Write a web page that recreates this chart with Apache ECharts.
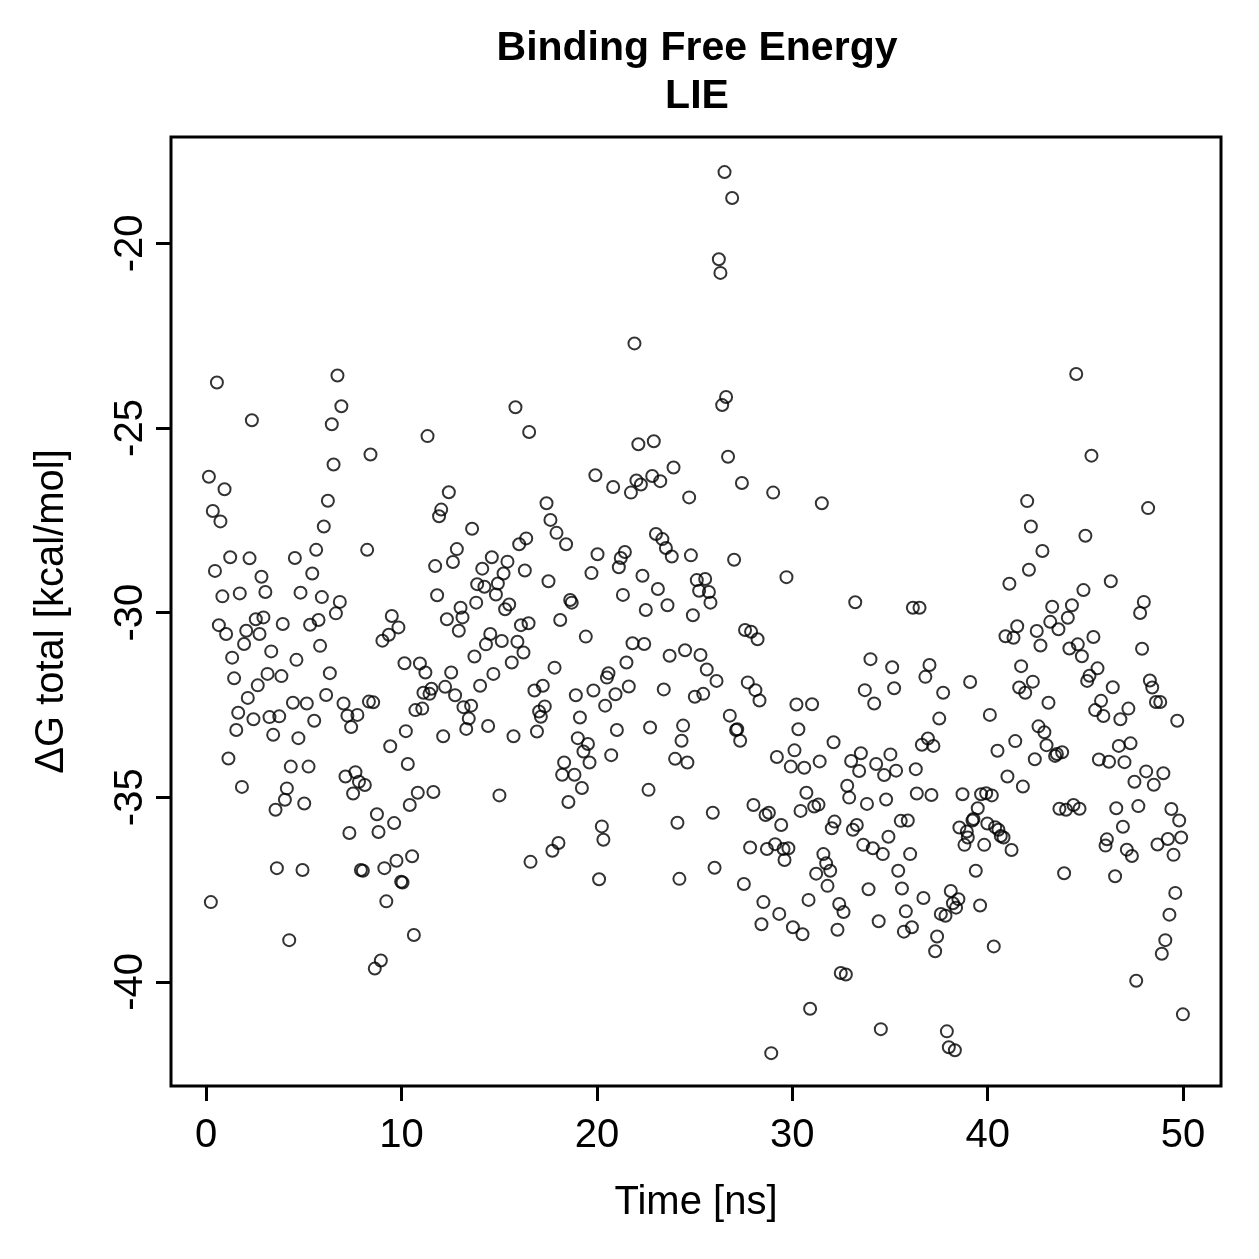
<!DOCTYPE html>
<html>
<head>
<meta charset="utf-8">
<script src="https://cdn.jsdelivr.net/npm/echarts@6/dist/echarts.min.js"></script>
<style>
  html, body { margin: 0; padding: 0; background: #fff; }
  #chart { width: 1259px; height: 1259px; }
</style>
</head>
<body>
<div id="chart"></div>
<script>
// time of each frame [ns]
var timeNs = [
  26.53, 26.92, 26.24, 26.32, 21.92, 44.53,
  0.55, 6.72, 6.92, 6.43, 2.34, 11.33, 15.83, 16.53, 8.41, 6.52,
  0.14, 0.94, 0.34, 0.73, 6.23, 12.42, 12.03, 11.92, 6.02, 13.61,
  16.38, 16.02, 1.23, 2.22, 4.54, 5.63, 8.24, 0.45, 2.83, 5.43,
  11.72, 12.63, 12.83, 14.62, 14.13, 15.42, 15.22, 16.31, 0.83, 1.72,
  3.03, 4.83, 5.92, 6.84, 6.64, 9.50, 11.82, 13.87, 14.24, 14.93,
  14.83, 13.82, 13.02, 15.51, 15.30,
  26.61, 26.41, 22.12, 22.91, 26.71, 19.92, 20.83, 22.02, 22.25, 21.74,
  22.83, 23.24, 23.92, 24.72, 27.42, 29.02, 31.51, 17.42, 17.62, 17.93,
  18.42, 20.03, 21.43, 21.22, 21.12, 23.02, 23.35, 23.53, 23.83, 24.81,
  27.02, 17.52, 19.72, 22.33, 23.12, 21.33, 18.63, 18.71, 22.50, 23.61,
  25.11, 25.54, 25.23, 25.73, 25.81, 24.91, 29.70, 33.22,
  45.31, 42.02, 48.21, 42.21, 45.00, 42.80, 42.11, 41.11, 44.90, 46.30,
  36.17, 36.51, 43.30, 44.31, 47.99, 47.80,
  0.65, 1.02, 2.05, 2.54, 2.93, 2.73, 3.92, 5.32, 5.75, 1.94,
  3.33, 5.83, 1.33, 4.62, 1.43, 3.14, 3.85, 2.64, 6.33, 2.13,
  6.14, 4.44, 5.15, 7.03, 8.33, 8.55, 1.64, 2.42, 3.24, 3.74,
  5.53, 7.23, 7.74, 7.42, 1.54, 3.43, 4.72, 1.14, 4.33, 5.24,
  1.83, 4.13, 4.03, 3.55, 5.02, 9.84, 9.35, 9.02, 10.15, 10.94,
  11.22, 12.54, 12.32, 13.12, 12.93, 11.53, 11.12, 11.43, 12.23, 12.74,
  13.73, 14.32, 14.54, 15.13, 15.93, 16.24, 16.11, 16.50, 15.64, 14.70,
  14.02, 10.71, 11.06, 13.17, 13.56, 13.44, 13.31, 14.43, 10.22, 12.13,
  15.73, 9.42, 10.32, 7.13, 7.64, 7.82, 8.12, 7.52, 10.83, 11.63,
  10.42, 15.01, 8.74, 9.62, 8.82, 7.33,
  18.12, 19.43, 21.82, 22.42, 23.72, 24.51, 25.30, 25.62, 26.12, 27.58,
  27.89, 28.22, 17.83, 21.51, 20.59, 20.51, 17.23, 16.80, 18.92, 19.82,
  20.95, 21.63, 20.42, 23.42, 25.01, 25.44, 27.72, 28.11, 28.32, 17.33,
  17.04, 17.13, 16.93, 19.13, 21.02, 22.72, 24.41, 24.33, 26.80, 27.18,
  27.12, 27.33, 30.21, 31.01, 30.31, 34.00, 33.71, 34.19, 19.02, 19.54,
  19.31, 19.62, 18.32, 18.22, 18.85, 19.23, 20.73, 24.00, 24.63, 22.64,
  18.54, 25.93, 24.12, 20.25, 20.33, 18.03, 17.72, 29.21, 30.11, 29.92,
  30.61, 31.40, 32.11, 33.01, 33.51, 33.42, 34.29, 32.81, 32.91, 33.82,
  30.72, 30.42, 31.12, 31.34, 28.01, 28.63, 28.80, 29.43, 32.16, 32.02,
  33.30, 33.10, 33.63, 34.12, 27.84, 28.70, 29.12, 29.55, 29.80, 31.59,
  43.20, 44.10, 43.62, 41.51, 40.91, 41.32, 42.51, 42.70, 45.41, 44.18,
  44.61, 44.82, 47.90, 35.11, 37.02, 36.81, 35.21, 37.72, 39.10, 41.71,
  42.31, 41.61, 41.92, 43.11, 45.62, 45.21, 45.09, 46.40, 45.80, 45.50,
  45.92, 47.20, 46.79, 48.30, 48.42, 48.61, 48.83, 49.70, 37.52, 40.11,
  36.94, 36.63, 37.22, 35.02, 34.70, 35.31, 36.32, 40.50, 41.41, 42.60,
  42.90, 43.01, 43.45, 43.81, 43.54, 42.41, 41.01, 41.80, 45.69, 46.21,
  46.71, 47.31, 47.00, 48.11, 48.99, 47.51, 48.50, 36.37, 37.12, 34.80,
  38.71, 39.66, 39.92, 40.21, 39.49, 39.22, 39.27, 38.55, 38.93, 38.98,
  38.81, 39.82, 39.98, 40.38, 40.55, 40.67, 40.81, 41.22, 35.55, 35.91,
  34.92, 34.63, 36.03, 43.67, 44.01, 44.39, 44.70, 46.58, 47.71, 49.40,
  49.80, 46.92, 46.10, 46.03, 47.12, 47.38, 48.69, 49.22, 49.90, 49.51,
  3.62, 4.93, 7.92, 8.02, 9.12, 9.74, 10.54, 9.98, 10.05, 0.24,
  9.22, 4.25, 10.63, 8.94, 8.63,
  16.60, 20.11, 24.22, 26.02, 27.52, 29.60, 31.73, 31.94, 31.22, 31.80,
  33.90, 28.52, 29.33, 28.42, 30.03, 30.52, 30.83, 32.40, 32.62, 32.31,
  34.42, 32.48, 32.74, 30.91, 28.92, 34.53,
  35.42, 35.61, 36.71, 39.39, 38.11, 38.50, 38.22, 38.38, 37.60, 37.84,
  39.61, 35.81, 36.12, 35.71, 37.41, 37.31, 40.31, 37.91, 38.01, 38.32,
  43.91, 46.52, 49.60, 49.30, 49.09, 48.91, 47.60, 49.99
];

// LIE binding free energy [kcal/mol], same order as timeNs
var deltaG = [
  -18.07, -18.77, -20.43, -20.80, -22.71, -23.54,
  -23.77, -23.58, -24.41, -24.90, -24.79, -25.22, -24.44, -25.11, -25.72, -25.99,
  -26.32, -26.66, -27.25, -27.53, -26.97, -26.74, -27.21, -27.39, -27.67, -27.73,
  -27.99, -28.15, -28.50, -28.53, -28.52, -28.30, -28.30, -28.87, -29.03, -28.94,
  -28.74, -28.63, -28.28, -28.50, -28.81, -28.62, -28.94, -28.86, -29.56, -29.48,
  -29.44, -29.46, -29.58, -29.71, -30.02, -30.09, -29.53, -29.23, -29.30, -29.21,
  -29.51, -29.73, -29.87, -29.78, -29.91,
  -24.16, -24.38, -25.44, -25.36, -25.78, -26.28, -26.60, -26.42, -26.53, -26.75,
  -26.30, -26.44, -26.07, -26.88, -26.49, -26.75, -27.04, -27.04, -27.49, -27.84,
  -28.15, -28.42, -28.36, -28.52, -28.77, -27.87, -28.01, -28.25, -28.48, -28.45,
  -28.57, -29.15, -28.93, -29.00, -29.36, -29.52, -29.66, -29.73, -29.93, -29.80,
  -29.12, -29.09, -29.41, -29.44, -29.73, -30.07, -29.04, -29.72,
  -25.75, -26.98, -27.17, -27.67, -27.92, -28.33, -28.84, -29.22, -29.39, -29.15,
  -29.87, -29.87, -29.84, -29.80, -29.71, -30.01,
  -30.34, -30.58, -30.49, -30.18, -30.13, -30.58, -30.31, -30.33, -30.20, -30.85,
  -31.05, -30.90, -31.22, -31.28, -31.78, -31.66, -31.72, -31.97, -31.64, -32.31,
  -32.23, -32.44, -32.46, -32.46, -32.41, -32.43, -32.71, -32.89, -32.83, -32.81,
  -32.93, -32.79, -32.77, -33.10, -33.18, -33.31, -33.40, -33.95, -34.17, -34.17,
  -34.72, -34.76, -35.07, -35.34, -35.17, -30.40, -30.60, -30.76, -31.37, -31.38,
  -31.62, -31.62, -30.18, -30.13, -30.49, -32.06, -32.17, -32.20, -32.01, -32.24,
  -31.19, -30.86, -30.58, -30.77, -30.79, -31.08, -30.34, -30.29, -31.35, -31.66,
  -31.98, -32.64, -32.60, -32.56, -32.52, -32.87, -33.15, -33.07, -33.21, -33.35,
  -33.35, -33.62, -34.10, -34.44, -34.32, -34.58, -34.67, -34.90, -34.88, -34.86,
  -35.21, -34.95, -35.46, -35.70, -35.94, -35.97,
  -30.20, -30.65, -30.83, -30.85, -31.17, -31.02, -31.15, -31.54, -31.85, -30.47,
  -30.52, -30.72, -31.49, -31.35, -31.64, -31.76, -31.98, -32.11, -32.24, -32.11,
  -32.21, -32.00, -32.52, -32.08, -32.28, -32.20, -31.89, -32.10, -32.38, -32.54,
  -32.68, -32.82, -33.22, -32.84, -33.18, -33.11, -33.06, -33.47, -32.79, -33.16,
  -33.18, -33.47, -32.49, -32.48, -33.16, -31.26, -32.10, -32.46, -33.40, -33.56,
  -33.76, -34.06, -34.06, -34.39, -34.39, -34.75, -33.86, -33.96, -34.06, -34.80,
  -35.13, -35.42, -35.69, -35.79, -36.15, -36.24, -36.45, -33.91, -33.73, -34.17,
  -34.20, -34.03, -33.51, -34.02, -33.81, -34.29, -34.10, -34.69, -35.01, -35.18,
  -34.88, -35.37, -35.25, -35.20, -35.21, -35.48, -35.42, -35.75, -35.66, -35.84,
  -35.75, -35.88, -36.29, -36.38, -36.36, -36.40, -36.27, -36.40, -36.38, -36.54,
  -30.25, -30.14, -30.45, -30.37, -30.64, -30.68, -30.50, -30.89, -30.66, -30.97,
  -30.86, -31.18, -30.98, -31.48, -31.42, -31.74, -32.05, -32.17, -31.88, -31.45,
  -31.87, -32.03, -32.17, -32.44, -31.51, -31.71, -31.85, -32.02, -32.39, -32.64,
  -32.80, -32.60, -32.89, -31.84, -32.03, -32.42, -32.42, -32.93, -32.87, -32.77,
  -33.41, -33.58, -33.61, -33.84, -34.40, -34.28, -34.24, -33.74, -33.48, -33.08,
  -33.24, -33.59, -33.88, -33.78, -33.83, -33.97, -34.44, -34.71, -33.98, -34.04,
  -33.61, -33.54, -34.05, -34.30, -34.35, -34.58, -34.66, -34.90, -34.94, -35.06,
  -34.92, -34.92, -34.89, -34.95, -35.30, -35.63, -35.59, -35.82, -35.93, -36.09,
  -36.29, -36.29, -35.71, -35.81, -35.88, -36.05, -36.09, -36.43, -35.64, -35.63,
  -36.07, -36.54, -36.54, -35.31, -35.34, -35.21, -35.31, -35.30, -35.24, -35.32,
  -35.63, -35.80, -36.14, -36.31, -36.42, -36.59, -36.28, -36.13, -36.09, -36.56,
  -36.92, -36.97, -36.97, -36.99, -36.92, -36.72, -36.60, -37.29, -37.31, -37.84,
  -37.82, -38.87, -38.73, -39.42, -39.64,
  -36.75, -37.22, -37.21, -36.91, -37.35, -36.70, -36.79, -36.99, -37.07, -37.40,
  -37.49, -37.84, -38.16, -38.44, -38.52, -38.71, -37.78, -37.89, -38.11, -38.59,
  -38.36, -39.76, -39.80, -40.73, -41.93, -41.28,
  -36.99, -37.47, -37.73, -36.99, -37.54, -37.76, -37.87, -37.99, -38.16, -38.21,
  -37.93, -38.09, -38.52, -38.64, -38.77, -39.17, -39.04, -41.34, -41.77, -41.85,
  -37.06, -37.14, -37.59, -38.18, -38.87, -39.24, -39.97, -40.88
];

var xTicks = [0, 10, 20, 30, 40, 50];
var yTicks = [-40, -35, -30, -25, -20];

var points = timeNs.map(function (t, i) { return [t, deltaG[i]]; });

var font = 'Liberation Sans, Arial, Helvetica, sans-serif';
var chart = echarts.init(document.getElementById('chart'));
var option = {
    animation: false,
    backgroundColor: '#fff',
    title: {
        text: 'Binding Free Energy\nLIE',
        left: 692,
        top: 20,
        textAlign: 'center',
        textStyle: {
            fontFamily: font,
            fontSize: 41,
            fontWeight: 'bold',
            color: '#000',
            lineHeight: 48
        }
    },
    grid: {
        left: 171,
        right: 38,
        top: 137,
        bottom: 173,
        show: true,
        borderColor: '#000',
        borderWidth: 3,
        backgroundColor: 'transparent'
    },
    xAxis: {
        type: 'value',
        min: -1.8,
        max: 51.94,
        name: 'Time [ns]',
        nameLocation: 'middle',
        nameGap: 97,
        nameTextStyle: { fontFamily: font, fontSize: 40, color: '#000' },
        axisLine: { show: false, onZero: false },
        splitLine: { show: false },
        axisTick: {
            show: true,
            inside: false,
            length: 15,
            customValues: xTicks,
            lineStyle: { color: '#000', width: 3 }
        },
        axisLabel: {
            customValues: xTicks,
            margin: 30,
            fontFamily: font,
            fontSize: 40,
            color: '#000'
        }
    },
    yAxis: {
        type: 'value',
        min: -42.82,
        max: -17.12,
        name: 'ΔG total [kcal/mol]',
        nameLocation: 'middle',
        nameGap: 99,
        nameTextStyle: { fontFamily: font, fontSize: 40, color: '#000' },
        axisLine: { show: false, onZero: false },
        splitLine: { show: false },
        axisTick: {
            show: true,
            inside: false,
            length: 15,
            customValues: yTicks,
            lineStyle: { color: '#000', width: 3 }
        },
        axisLabel: {
            customValues: yTicks,
            rotate: 90,
            margin: 20,
            fontFamily: font,
            fontSize: 40,
            color: '#000'
        }
    },
    series: [{
        type: 'scatter',
        data: points,
        symbol: 'circle',
        symbolSize: 12,
        itemStyle: {
            color: 'transparent',
            borderColor: '#000',
            borderWidth: 2
        }
    }]
};
chart.setOption(option);
</script>
</body>
</html>
